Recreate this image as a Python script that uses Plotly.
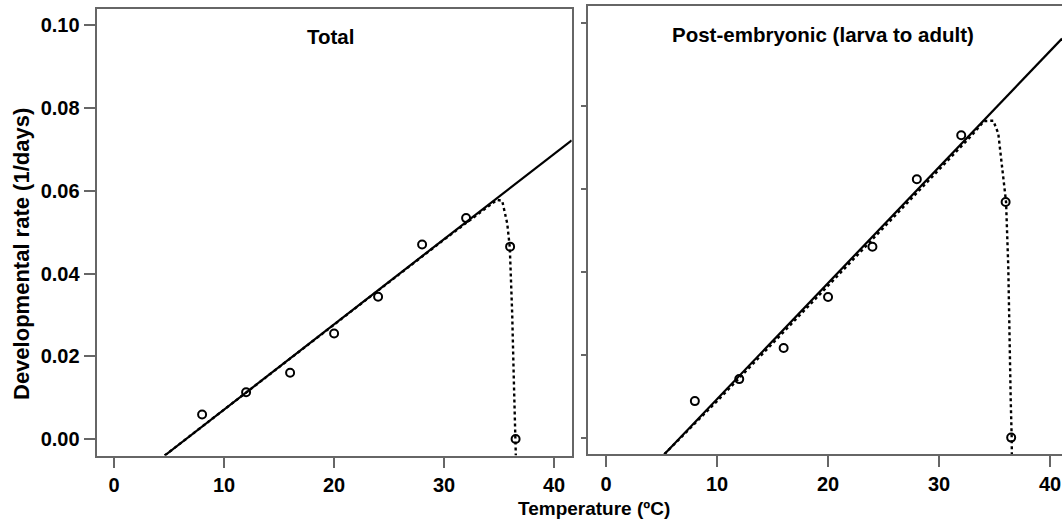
import plotly.graph_objects as go

# ---------------- data ----------------
temps = [8, 12, 16, 20, 24, 28, 32, 36, 36.5]
total_rate = [0.0059, 0.0113, 0.0160, 0.0255, 0.0344, 0.0470, 0.0534, 0.0465, 0.0]
post_rate = [0.0088, 0.0141, 0.0216, 0.0339, 0.0460, 0.0623, 0.0729, 0.0568, 0.0]

# linear fits (end points)
total_lin_T = [4.6, 41.6]
total_lin_r = [-0.004, 0.0722]
post_lin_T = [5.25, 41.08]
post_lin_r = [-0.004, 0.0962]

# nonlinear fits (dotted)
total_nl_T = [4.6, 20, 30, 34.0, 34.8, 35.28, 35.74, 35.97, 36.19, 36.34, 36.49, 36.52]
total_nl_r = [-0.004, 0.0277, 0.0482, 0.0562, 0.0578, 0.0576, 0.0521, 0.0464, 0.0303, 0.0142, 0.0004, -0.004]
post_nl_T = [5.25, 10, 20, 30, 33, 34.05, 34.89, 35.34, 35.65, 35.88, 36.04, 36.24, 36.33, 36.46, 36.55, 36.56]
post_nl_r = [-0.004, 0.0088, 0.0366, 0.0645, 0.0730, 0.0763, 0.0764, 0.0733, 0.0653, 0.0604, 0.0568, 0.0412, 0.0251, 0.0090, -0.0002, -0.004]

x_ticks = [0, 10, 20, 30, 40]
y_ticks = [0.00, 0.02, 0.04, 0.06, 0.08, 0.10]
y_tick_text = ["0.00", "0.02", "0.04", "0.06", "0.08", "0.10"]

panel_titles = ["Total", "Post-embryonic (larva to adult)"]
x_title = "Temperature (ºC)"
y_title = "Developmental rate (1/days)"

# ---------------- figure ----------------
W, H = 1062, 522
FONT = "Liberation Sans, Arial, Helvetica, sans-serif"
BOX = "#666666"

fig = go.Figure()

def add_panel(xa, ya, nl_T, nl_r, lin_T, lin_r, rates):
    fig.add_trace(go.Scatter(x=nl_T, y=nl_r, mode="lines", xaxis=xa, yaxis=ya,
                             line=dict(color="black", width=2.4, dash="dot"),
                             showlegend=False, hoverinfo="skip"))
    fig.add_trace(go.Scatter(x=lin_T, y=lin_r, mode="lines", xaxis=xa, yaxis=ya,
                             line=dict(color="black", width=2.2),
                             showlegend=False, hoverinfo="skip"))
    fig.add_trace(go.Scatter(x=temps, y=rates, mode="markers", xaxis=xa, yaxis=ya,
                             marker=dict(symbol="circle-open", size=8, color="black",
                                         line=dict(width=2, color="black")),
                             showlegend=False))

add_panel("x", "y", total_nl_T, total_nl_r, total_lin_T, total_lin_r, total_rate)
add_panel("x2", "y2", post_nl_T, post_nl_r, post_lin_T, post_lin_r, post_rate)

def px_x(p):
    return p / W

def px_y(p):
    return 1 - p / H

tickfont = dict(family=FONT, size=20, color="black", weight="bold")

common_x = dict(tickmode="array", tickvals=x_ticks, ticks="outside", ticklen=11,
                tickwidth=1.5, tickcolor=BOX, showline=True, linecolor=BOX,
                linewidth=1.8, showgrid=False, zeroline=False, tickfont=tickfont,
                fixedrange=True)
common_y = dict(tickmode="array", tickvals=y_ticks, ticktext=y_tick_text,
                ticks="outside", tickwidth=1.5, tickcolor=BOX, showline=True,
                linecolor=BOX, linewidth=1.8, showgrid=False, zeroline=False,
                tickfont=tickfont, fixedrange=True)

fig.update_layout(
    width=W, height=H, autosize=False,
    margin=dict(l=0, r=0, t=0, b=0),
    paper_bgcolor="white", plot_bgcolor="white",
    xaxis=dict(domain=[px_x(96.5), px_x(571.7)], range=[-1.6, 41.6],
               anchor="y", mirror=True, **common_x),
    yaxis=dict(domain=[px_y(455.5), px_y(8.8)], range=[-0.004, 0.104],
               anchor="x", mirror=True, ticklen=11, **common_y),
    xaxis2=dict(domain=[px_x(588.3), 1.0], range=[-1.6, 41.08],
                anchor="y2", mirror=True, **common_x),
    yaxis2=dict(domain=[px_y(454.2), px_y(6.2)], range=[-0.004, 0.104],
                anchor="x2", mirror=False, ticklen=5, showticklabels=False,
                **common_y),
)

title_font = dict(family=FONT, size=20.5, color="black", weight="bold")
x_title_font = dict(family=FONT, size=19, color="black", weight="bold")
y_title_font = dict(family=FONT, size=22, color="black", weight="bold")

fig.add_annotation(text=panel_titles[0], x=px_x(330), y=px_y(36), xref="paper",
                   yref="paper", showarrow=False, font=title_font,
                   xanchor="center", yanchor="middle")
fig.add_annotation(text=panel_titles[1], x=px_x(823), y=px_y(34), xref="paper",
                   yref="paper", showarrow=False, font=title_font,
                   xanchor="center", yanchor="middle")
fig.add_annotation(text=x_title, x=px_x(594), y=px_y(508), xref="paper",
                   yref="paper", showarrow=False, font=x_title_font,
                   xanchor="center", yanchor="middle")
fig.add_annotation(text=y_title, x=px_x(21), y=px_y(254), xref="paper",
                   yref="paper", showarrow=False, font=y_title_font,
                   textangle=-90, xanchor="center", yanchor="middle")

fig.write_html("out.html")
